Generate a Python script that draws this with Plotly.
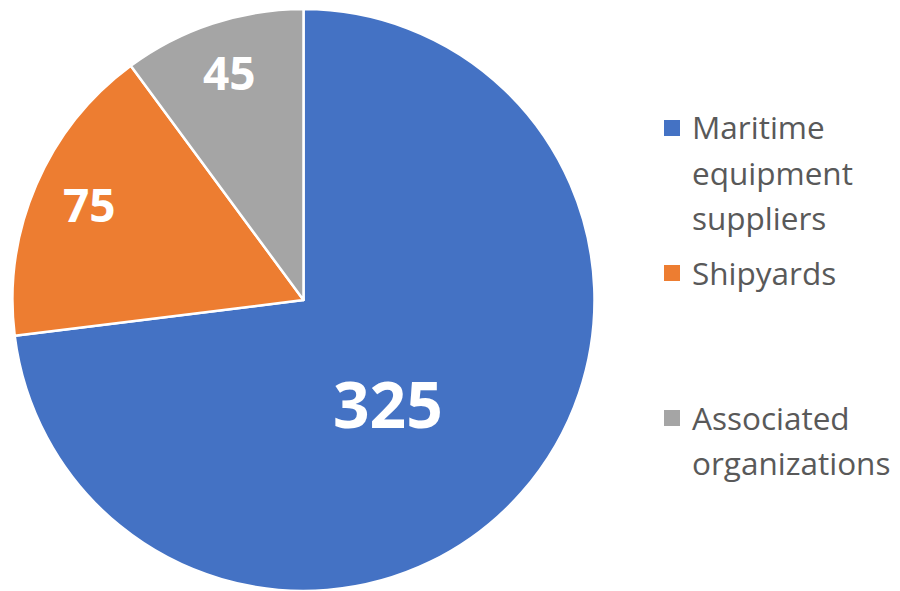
import math
import plotly.graph_objects as go

CATEGORIES = ["Maritime equipment suppliers", "Shipyards", "Associated organizations"]
VALUES = [325, 75, 45]
COLORS = ["#4472C4", "#ED7D31", "#A5A5A5"]
LEGEND_LINES = [["Maritime", "equipment", "suppliers"], ["Shipyards"], ["Associated", "organizations"]]

W, H = 900, 591
OFF = 8  # page body margin in the browser
FONT = "Open Sans"

# pie geometry (screen pixels)
CX, CY, R = 303.5, 300, 291

fig = go.Figure(go.Pie(
    labels=CATEGORIES,
    values=VALUES,
    sort=False,
    direction="clockwise",
    rotation=0,
    marker=dict(colors=COLORS, line=dict(color="white", width=2.5)),
    textinfo="none",
    domain=dict(x=[(CX - R - OFF) / W, (CX + R - OFF) / W],
                y=[1 - (CY + R - OFF) / H, 1 - (CY - R - OFF) / H]),
    showlegend=False,
    hoverinfo="label+value",
))

# data labels placed along slice directions (Excel best-fit style)
LABEL_R = [0.47, 0.80, 0.81]
LABEL_ANGLE_SHIFT = [10.4, 0, 0]
LABEL_SIZE = [64, 46, 46]
total = sum(VALUES)
annotations = []
cum = 0
for i, v in enumerate(VALUES):
    mid = (cum + v / 2) / total * 360 + LABEL_ANGLE_SHIFT[i]
    cum += v
    a = math.radians(mid)
    px = CX + LABEL_R[i] * R * math.sin(a) - OFF
    py = CY - LABEL_R[i] * R * math.cos(a) - OFF
    annotations.append(dict(text=f"<b>{v}</b>", xref="paper", yref="paper",
                            x=px / W, y=1 - (py - 4) / H, xanchor="center", yanchor="middle",
                            showarrow=False,
                            font=dict(family=FONT, size=LABEL_SIZE[i], color="white")))

# manual legend
item_center = [128, 273, 418]
line_gap = 45
shapes = []
for i, lines in enumerate(LEGEND_LINES):
    yc = item_center[i] - OFF
    shapes.append(dict(type="rect", xref="paper", yref="paper",
                       x0=(664 - OFF) / W, x1=(680 - OFF) / W,
                       y0=1 - (yc + 8) / H, y1=1 - (yc - 8) / H,
                       fillcolor=COLORS[i], line=dict(width=0)))
    for j, ln in enumerate(lines):
        y = yc + j * line_gap
        annotations.append(dict(text=ln, xref="paper", yref="paper", x=(690 - OFF) / W, y=1 - (y - 1) / H,
                                xanchor="left", yanchor="middle", showarrow=False,
                                font=dict(family=FONT, size=31.5, color="#595959")))

fig.update_layout(
    width=W, height=H,
    margin=dict(l=0, r=0, t=0, b=0),
    paper_bgcolor="white",
    plot_bgcolor="white",
    shapes=shapes,
    annotations=annotations,
)

fig.write_html("out.html")
